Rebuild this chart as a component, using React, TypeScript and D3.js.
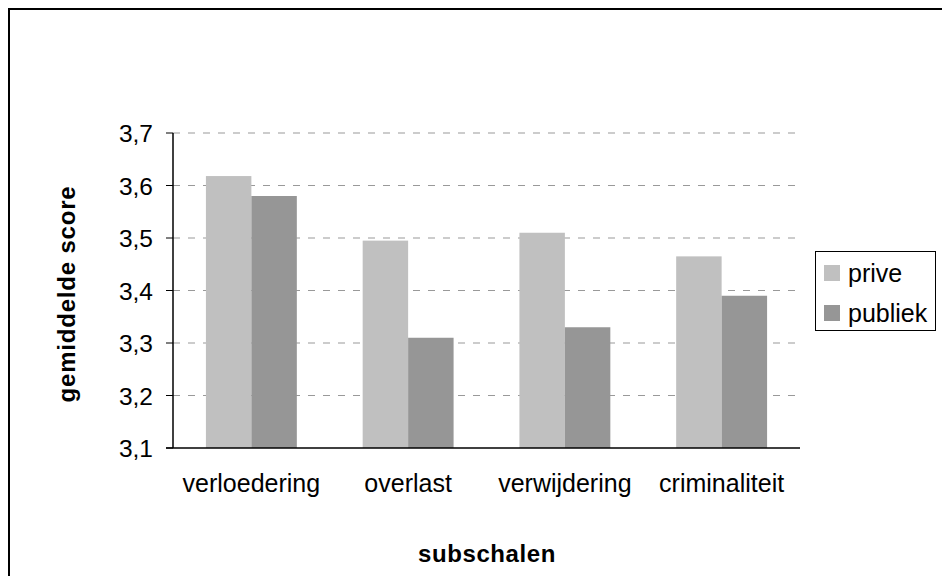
import React from "react";
import * as d3 from "d3";

const categories = ["verloedering", "overlast", "verwijdering", "criminaliteit"];
const seriesNames = ["prive", "publiek"];
const prive = [3.618, 3.495, 3.51, 3.465];
const publiek = [3.58, 3.31, 3.33, 3.39];
const yTicks = [3.1, 3.2, 3.3, 3.4, 3.5, 3.6, 3.7];
const colors = ["#c0c0c0", "#969696"];

export default function App() {
  const W = 942, H = 576;
  const left = 173, right = 800, top = 133, bottom = 448;
  const x = d3.scaleBand<string>().domain(categories).range([left, right]).paddingInner(0.42).paddingOuter(0.21);
  const x1 = d3.scaleBand<string>().domain(seriesNames).range([0, x.bandwidth()]);
  const y = d3.scaleLinear().domain([3.1, 3.7]).range([bottom, top]);
  const data = [prive, publiek];
  const fmt = (v: number) => v.toFixed(1).replace(".", ",");
  const font = "Arial, 'Liberation Sans', sans-serif";
  return (
    <svg width={W} height={H} style={{ position: "absolute", left: 0, top: 0 }} fontFamily={font}>
      <rect x={0} y={0} width={W} height={H} fill="#fff" />
      <rect x={9} y={9} width={W + 20} height={H + 20} fill="none" stroke="#000" strokeWidth={2} />
      {yTicks.map((t) => (
        <g key={t}>
          {t > 3.1 && (
            <line x1={left} x2={right} y1={y(t)} y2={y(t)} stroke="#999" strokeWidth={1} strokeDasharray="7,8" />
          )}
          <line x1={left - 7} x2={left} y1={y(t)} y2={y(t)} stroke="#000" strokeWidth={1} />
          <text x={left - 20} y={y(t) + 9} textAnchor="end" fontSize={24.5}>{fmt(t)}</text>
        </g>
      ))}
      {categories.map((c, i) => (
        <g key={c}>
          {seriesNames.map((s, j) => (
            <rect key={s} x={(x(c) as number) + (x1(s) as number)} y={y(data[j][i])} width={x1.bandwidth()} height={bottom - y(data[j][i])} fill={colors[j]} />
          ))}
          <text x={(x(c) as number) + x.bandwidth() / 2} y={492} textAnchor="middle" fontSize={25}>{c}</text>
        </g>
      ))}
      <line x1={left} x2={left} y1={top} y2={bottom} stroke="#000" strokeWidth={1.5} />
      <line x1={left - 7} x2={right} y1={bottom} y2={bottom} stroke="#000" strokeWidth={1.5} />
      <text transform={`translate(75,294) rotate(-90)`} textAnchor="middle" fontSize={24} fontWeight="bold" letterSpacing={0.8}>gemiddelde score</text>
      <text x={487} y={562} textAnchor="middle" fontSize={24} fontWeight="bold" letterSpacing={0.6}>subschalen</text>
      <rect x={815.5} y={251.5} width={120} height={79} fill="#fff" stroke="#000" strokeWidth={1} />
      {seriesNames.map((s, j) => (
        <g key={s}>
          <rect x={824} y={265 + j * 40} width={16} height={16} fill={colors[j]} />
          <text x={848} y={282 + j * 40} fontSize={25}>{s}</text>
        </g>
      ))}
    </svg>
  );
}
